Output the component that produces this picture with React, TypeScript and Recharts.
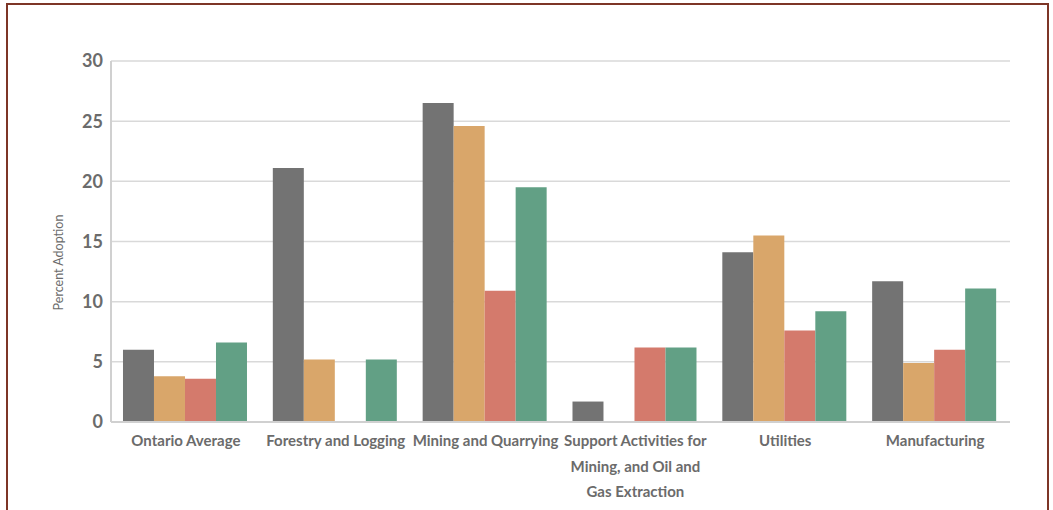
import { Bar, BarChart, CartesianGrid, XAxis, YAxis } from "recharts";

const categories = [
  "Ontario Average",
  "Forestry and Logging",
  "Mining and Quarrying",
  "Support Activities for Mining, and Oil and Gas Extraction",
  "Utilities",
  "Manufacturing",
];

// how each category label breaks into lines
const tickLines = [
  ["Ontario Average"],
  ["Forestry and Logging"],
  ["Mining and Quarrying"],
  ["Support Activities for", "Mining, and Oil and", "Gas Extraction"],
  ["Utilities"],
  ["Manufacturing"],
];

const seriesA = [6.0, 21.1, 26.5, 1.7, 14.1, 11.7];
const seriesB = [3.8, 5.2, 24.6, 0, 15.5, 4.9];
const seriesC = [3.6, 0, 10.9, 6.2, 7.6, 6.0];
const seriesD = [6.6, 5.2, 19.5, 6.2, 9.2, 11.1];

const yTicks = [0, 5, 10, 15, 20, 25, 30];

const data = categories.map((name, i) => ({
  name,
  a: seriesA[i],
  b: seriesB[i],
  c: seriesC[i],
  d: seriesD[i],
}));

const FONT = "Lato, 'Open Sans', sans-serif";

function CategoryTick(props: any) {
  const { x, y, index } = props;
  const lines = tickLines[index] || [props.payload.value];
  return (
    <text
      x={x}
      y={y + 22}
      textAnchor="middle"
      fill="#6b6b6b"
      fontSize={15}
      fontWeight={700}
      fontFamily={FONT}
    >
      {lines.map((line: string, i: number) => (
        <tspan key={i} x={x} dy={i === 0 ? 0 : 25.5}>
          {line}
        </tspan>
      ))}
    </text>
  );
}

export default function App() {
  return (
    <div style={{ position: "absolute", left: 0, top: 0, width: 1053, height: 510, overflow: "hidden", background: "#fff" }}>
      <div
        style={{
          position: "absolute",
          left: 6,
          top: 3,
          width: 1039,
          height: 540,
          border: "2px solid #7d3526",
        }}
      />
      <BarChart
        width={1053}
        height={510}
        data={data}
        margin={{ top: 61, right: 43, bottom: 58, left: 51 }}
        barCategoryGap="8%"
        barGap={0}
      >
        <CartesianGrid vertical={false} stroke="#d9d9d9" strokeWidth={1.5} />
        <XAxis
          dataKey="name"
          interval={0}
          tickLine={false}
          tickSize={0}
          axisLine={{ stroke: "#d0d0d0", strokeWidth: 2 }}
          tick={<CategoryTick />}
        />
        <YAxis
          width={60}
          domain={[0, 30]}
          ticks={yTicks}
          tickLine={false}
          tickSize={0}
          axisLine={{ stroke: "#d0d0d0", strokeWidth: 2 }}
          tickMargin={8}
          tick={{ fill: "#6b6b6b", fontSize: 18, fontWeight: 700, fontFamily: FONT }}
          label={{
            value: "Percent Adoption",
            angle: -90,
            position: "insideLeft",
            offset: 0,
            dx: 8,
            dy: 21,
            style: { fill: "#6b6b6b", fontSize: 12.5, fontFamily: FONT, textAnchor: "middle" },
          }}
        />
        <Bar dataKey="a" fill="#737373" isAnimationActive={false} />
        <Bar dataKey="b" fill="#d9a66a" isAnimationActive={false} />
        <Bar dataKey="c" fill="#d47a6c" isAnimationActive={false} />
        <Bar dataKey="d" fill="#62a085" isAnimationActive={false} />
      </BarChart>
    </div>
  );
}
